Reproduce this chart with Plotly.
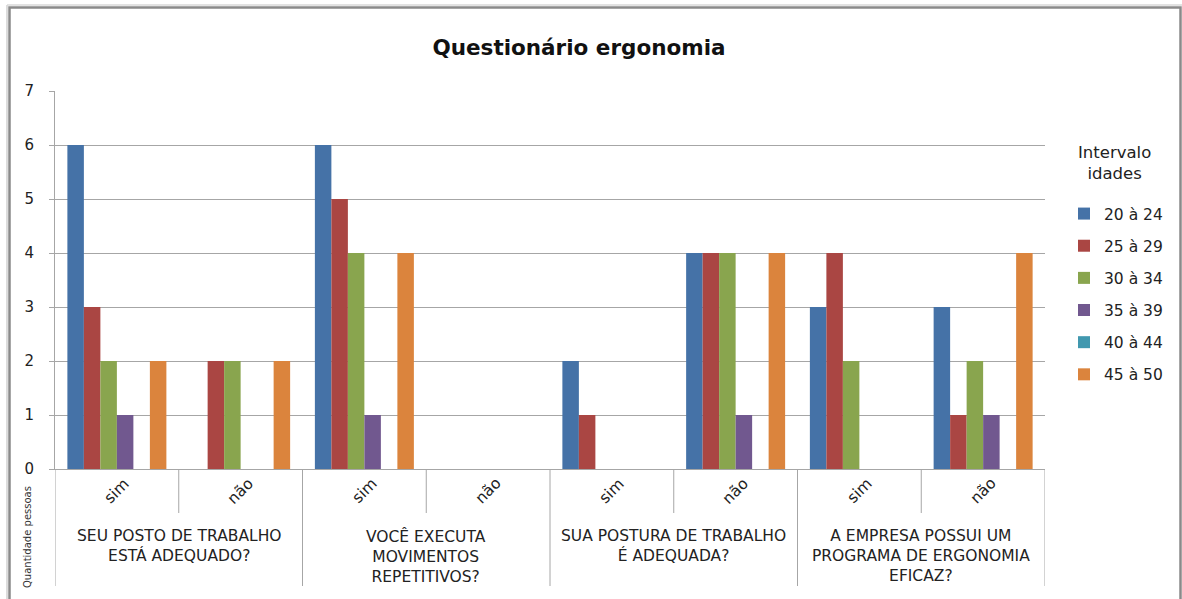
import plotly.graph_objects as go

# ---- data ----
questions = [
    "SEU POSTO DE TRABALHO<br>ESTÁ ADEQUADO?",
    "VOCÊ EXECUTA<br>MOVIMENTOS<br>REPETITIVOS?",
    "SUA POSTURA DE TRABALHO<br>É ADEQUADA?",
    "A EMPRESA POSSUI UM<br>PROGRAMA DE ERGONOMIA<br>EFICAZ?",
]
answers = ["sim", "não"]
series_names = ["20 à 24", "25 à 29", "30 à 34", "35 à 39", "40 à 44", "45 à 50"]
colors = ["#4572A7", "#AA4643", "#89A54E", "#71588F", "#4198AF", "#DB843D"]

s20_24 = [6, 0, 6, 0, 2, 4, 3, 3]
s25_29 = [3, 2, 5, 0, 1, 4, 4, 1]
s30_34 = [2, 2, 4, 0, 0, 4, 2, 2]
s35_39 = [1, 0, 1, 0, 0, 1, 0, 1]
s40_44 = [0, 0, 0, 0, 0, 0, 0, 0]
s45_50 = [2, 2, 4, 0, 0, 4, 0, 4]
values = [s20_24, s25_29, s30_34, s35_39, s40_44, s45_50]

y_ticks = [0, 1, 2, 3, 4, 5, 6, 7]

# ---- layout geometry (pixels) ----
W, H = 1182, 599
PX0, PX1 = 55, 1045
PY_TOP, PY_BOT = 91, 469
SUB_BOT = 513
CAT_BOT = 586
FONT = "DejaVu Sans"

def px(x):
    return x / W

def py(y):
    return 1 - y / H

n_groups = len(questions) * len(answers)
xs = list(range(n_groups))

fig = go.Figure()
for name, col, vals in zip(series_names, colors, values):
    fig.add_trace(go.Bar(
        x=xs, y=vals, name=name, marker_color=col,
        marker_line_width=0, legendgroup=name,
    ))

shapes = []
annotations = []
# outer frame
shapes.append(dict(type="rect", xref="paper", yref="paper",
                   x0=px(9.5), x1=px(1180.5), y0=py(640), y1=py(7.5),
                   line=dict(color="#8a8a8a", width=2.5)))
shapes.append(dict(type="line", xref="paper", yref="paper",
                   x0=px(7), x1=px(7), y0=py(640), y1=py(5),
                   line=dict(color="#d0d0d0", width=1.5)))
shapes.append(dict(type="line", xref="paper", yref="paper",
                   x0=px(7), x1=px(1182), y0=py(5), y1=py(5),
                   line=dict(color="#d8d8d8", width=1.5)))

gcol = "#a6a6a6"
# axis extension / dividers
for g in range(n_groups + 1):
    xv = g - 0.5
    y_end = CAT_BOT if g % len(answers) == 0 else SUB_BOT
    shapes.append(dict(type="line", xref="x", yref="paper",
                       x0=xv, x1=xv, y0=py(PY_BOT), y1=py(y_end),
                       line=dict(color=gcol, width=1)))

# sub-category labels
for g in range(n_groups):
    annotations.append(dict(
        x=g, y=py(491), xref="x", yref="paper",
        text=answers[g % len(answers)], showarrow=False, textangle=-45,
        font=dict(family=FONT, size=15.5, color="#222"),
        xanchor="center", yanchor="middle"))

# question labels
for q, text in enumerate(questions):
    xc = q * len(answers) + (len(answers) - 1) / 2
    annotations.append(dict(
        x=xc, y=py(525), xref="x", yref="paper",
        text=text, showarrow=False, align="center",
        font=dict(family=FONT, size=15.5, color="#222"),
        xanchor="center", yanchor="top"))

# y axis title
annotations.append(dict(
    x=px(27), y=py(537), xref="paper", yref="paper",
    text="Quantidade pessoas", showarrow=False, textangle=-90,
    font=dict(family=FONT, size=10, color="#333"),
    xanchor="center", yanchor="middle"))

# legend title
annotations.append(dict(
    x=px(1114), y=py(141), xref="paper", yref="paper",
    text="Intervalo<br>idades", showarrow=False, align="center",
    font=dict(family=FONT, size=16.5, color="#222"),
    xanchor="center", yanchor="top"))

fig.update_layout(
    width=W, height=H,
    margin=dict(l=0, r=0, t=0, b=0, autoexpand=False),
    paper_bgcolor="white", plot_bgcolor="white",
    title=dict(text="<b>Questionário ergonomia</b>", x=px(579), xanchor="center",
               y=py(47), yanchor="middle",
               font=dict(family=FONT, size=21.5, color="#111")),
    barmode="group", bargap=0.2, bargroupgap=0,
    showlegend=True,
    legend=dict(
        x=px(1064), y=py(197), xanchor="left", yanchor="top",
        font=dict(family=FONT, size=15.5, color="#222"),
        traceorder="grouped", tracegroupgap=9,
        itemwidth=30, bgcolor="rgba(0,0,0,0)",
    ),
    xaxis=dict(domain=[px(PX0), px(PX1)], range=[-0.5, n_groups - 0.5],
               automargin=False,
               showticklabels=False, showgrid=False, zeroline=False,
               showline=True, linecolor=gcol, linewidth=1, ticks=""),
    yaxis=dict(domain=[py(PY_BOT), py(PY_TOP)], range=[0, 7],
               automargin=False,
               tickvals=y_ticks, ticks="outside", ticklen=5, tickcolor=gcol,
               showline=True, linecolor=gcol, linewidth=1,
               showgrid=True, gridcolor=gcol, gridwidth=1, zeroline=False,
               ticklabelstandoff=12,
               tickfont=dict(family=FONT, size=15, color="#222")),
    shapes=shapes, annotations=annotations,
)

fig.write_html("out.html", config={"displayModeBar": False},
               post_script="document.body.style.margin='0';")
